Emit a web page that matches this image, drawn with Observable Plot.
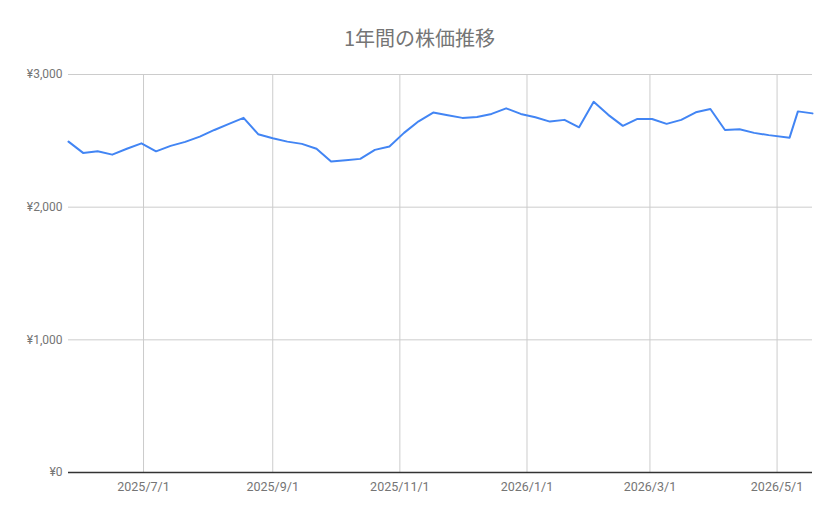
<!DOCTYPE html>
<html>
<head>
<meta charset="utf-8">
<script src="https://cdn.jsdelivr.net/npm/d3@7"></script>
<script src="https://cdn.jsdelivr.net/npm/@observablehq/plot@0.6"></script>
<style>
  html, body { margin: 0; padding: 0; background: #fff; }
  #wrap { width: 839px; height: 519px; position: relative; overflow: hidden; }
  #title { height: 60px; box-sizing: border-box; padding-top: 28px; text-align: center;
    font-family: "Noto Sans CJK JP", Roboto, sans-serif; font-size: 20px; line-height: 20px; color: #757575; }
  svg { display: block; }
</style>
</head>
<body>
<div id="wrap">
  <div id="title">1年間の株価推移</div>
  <div id="chart"></div>
</div>
<script>
const dates = [
  "2025-05-26","2025-06-02","2025-06-09","2025-06-16","2025-06-23","2025-06-30",
  "2025-07-07","2025-07-14","2025-07-21","2025-07-28","2025-08-04","2025-08-11",
  "2025-08-18","2025-08-25","2025-09-01","2025-09-08","2025-09-15","2025-09-22",
  "2025-09-29","2025-10-06","2025-10-13","2025-10-20","2025-10-27","2025-11-03",
  "2025-11-10","2025-11-17","2025-11-24","2025-12-01","2025-12-08","2025-12-15",
  "2025-12-22","2025-12-29","2026-01-05","2026-01-12","2026-01-19","2026-01-26",
  "2026-02-02","2026-02-09","2026-02-16","2026-02-23","2026-03-02","2026-03-09",
  "2026-03-16","2026-03-23","2026-03-30","2026-04-06","2026-04-13","2026-04-20",
  "2026-04-27","2026-05-07","2026-05-11","2026-05-18"
];
const prices = [
  2494, 2409, 2421, 2396, 2440, 2481,
  2421, 2462, 2492, 2532, 2582, 2628,
  2673, 2550, 2519, 2494, 2477, 2440,
  2344, 2354, 2364, 2432, 2457, 2560,
  2647, 2713, 2693, 2673, 2680, 2703,
  2745, 2703, 2678, 2645, 2658, 2602,
  2794, 2696, 2613, 2665, 2665, 2628,
  2658, 2715, 2740, 2582, 2587, 2560,
  2543, 2524, 2722, 2707
];
const xTicks = ["2025-07-01","2025-09-01","2025-11-01","2026-01-01","2026-03-01","2026-05-01"];
const yTicks = [0, 1000, 2000, 3000];

const parse = d3.utcParse("%Y-%m-%d");
const data = dates.map((d, i) => ({date: parse(d), price: prices[i]}));
const xTickDates = xTicks.map(parse);
const fmtDate = d => `${d.getUTCFullYear()}/${d.getUTCMonth() + 1}/${d.getUTCDate()}`;
const fmtYen = v => "¥" + d3.format(",")(v);

const chart = Plot.plot({
  width: 839,
  height: 459,
  marginTop: 14,
  marginBottom: 47,
  marginLeft: 68,
  marginRight: 27,
  style: {fontFamily: "Roboto, sans-serif", fontSize: "12px", color: "#757575", background: "#fff"},
  x: {type: "utc", domain: d3.extent(data, d => d.date)},
  y: {domain: [0, 3000]},
  marks: [
    Plot.ruleY(yTicks.filter(v => v > 0), {stroke: "#cccccc", strokeWidth: 1}),
    Plot.ruleX(xTickDates, {y1: 0, y2: 3000, stroke: "#cccccc", strokeWidth: 1}),
    Plot.ruleY([0], {stroke: "#333333", strokeWidth: 1.5}),
    Plot.axisY({ticks: yTicks, tickFormat: fmtYen, tickSize: 0, tickPadding: 6, label: null, fill: "#757575", fontSize: 12}),
    Plot.axisX({ticks: xTickDates, tickFormat: fmtDate, tickSize: 0, tickPadding: 10, label: null, fill: "#757575", fontSize: 12.5}),
    Plot.line(data, {x: "date", y: "price", stroke: "#4285f4", strokeWidth: 2, strokeLinejoin: "round"})
  ]
});
document.getElementById("chart").appendChild(chart);
</script>
</body>
</html>
